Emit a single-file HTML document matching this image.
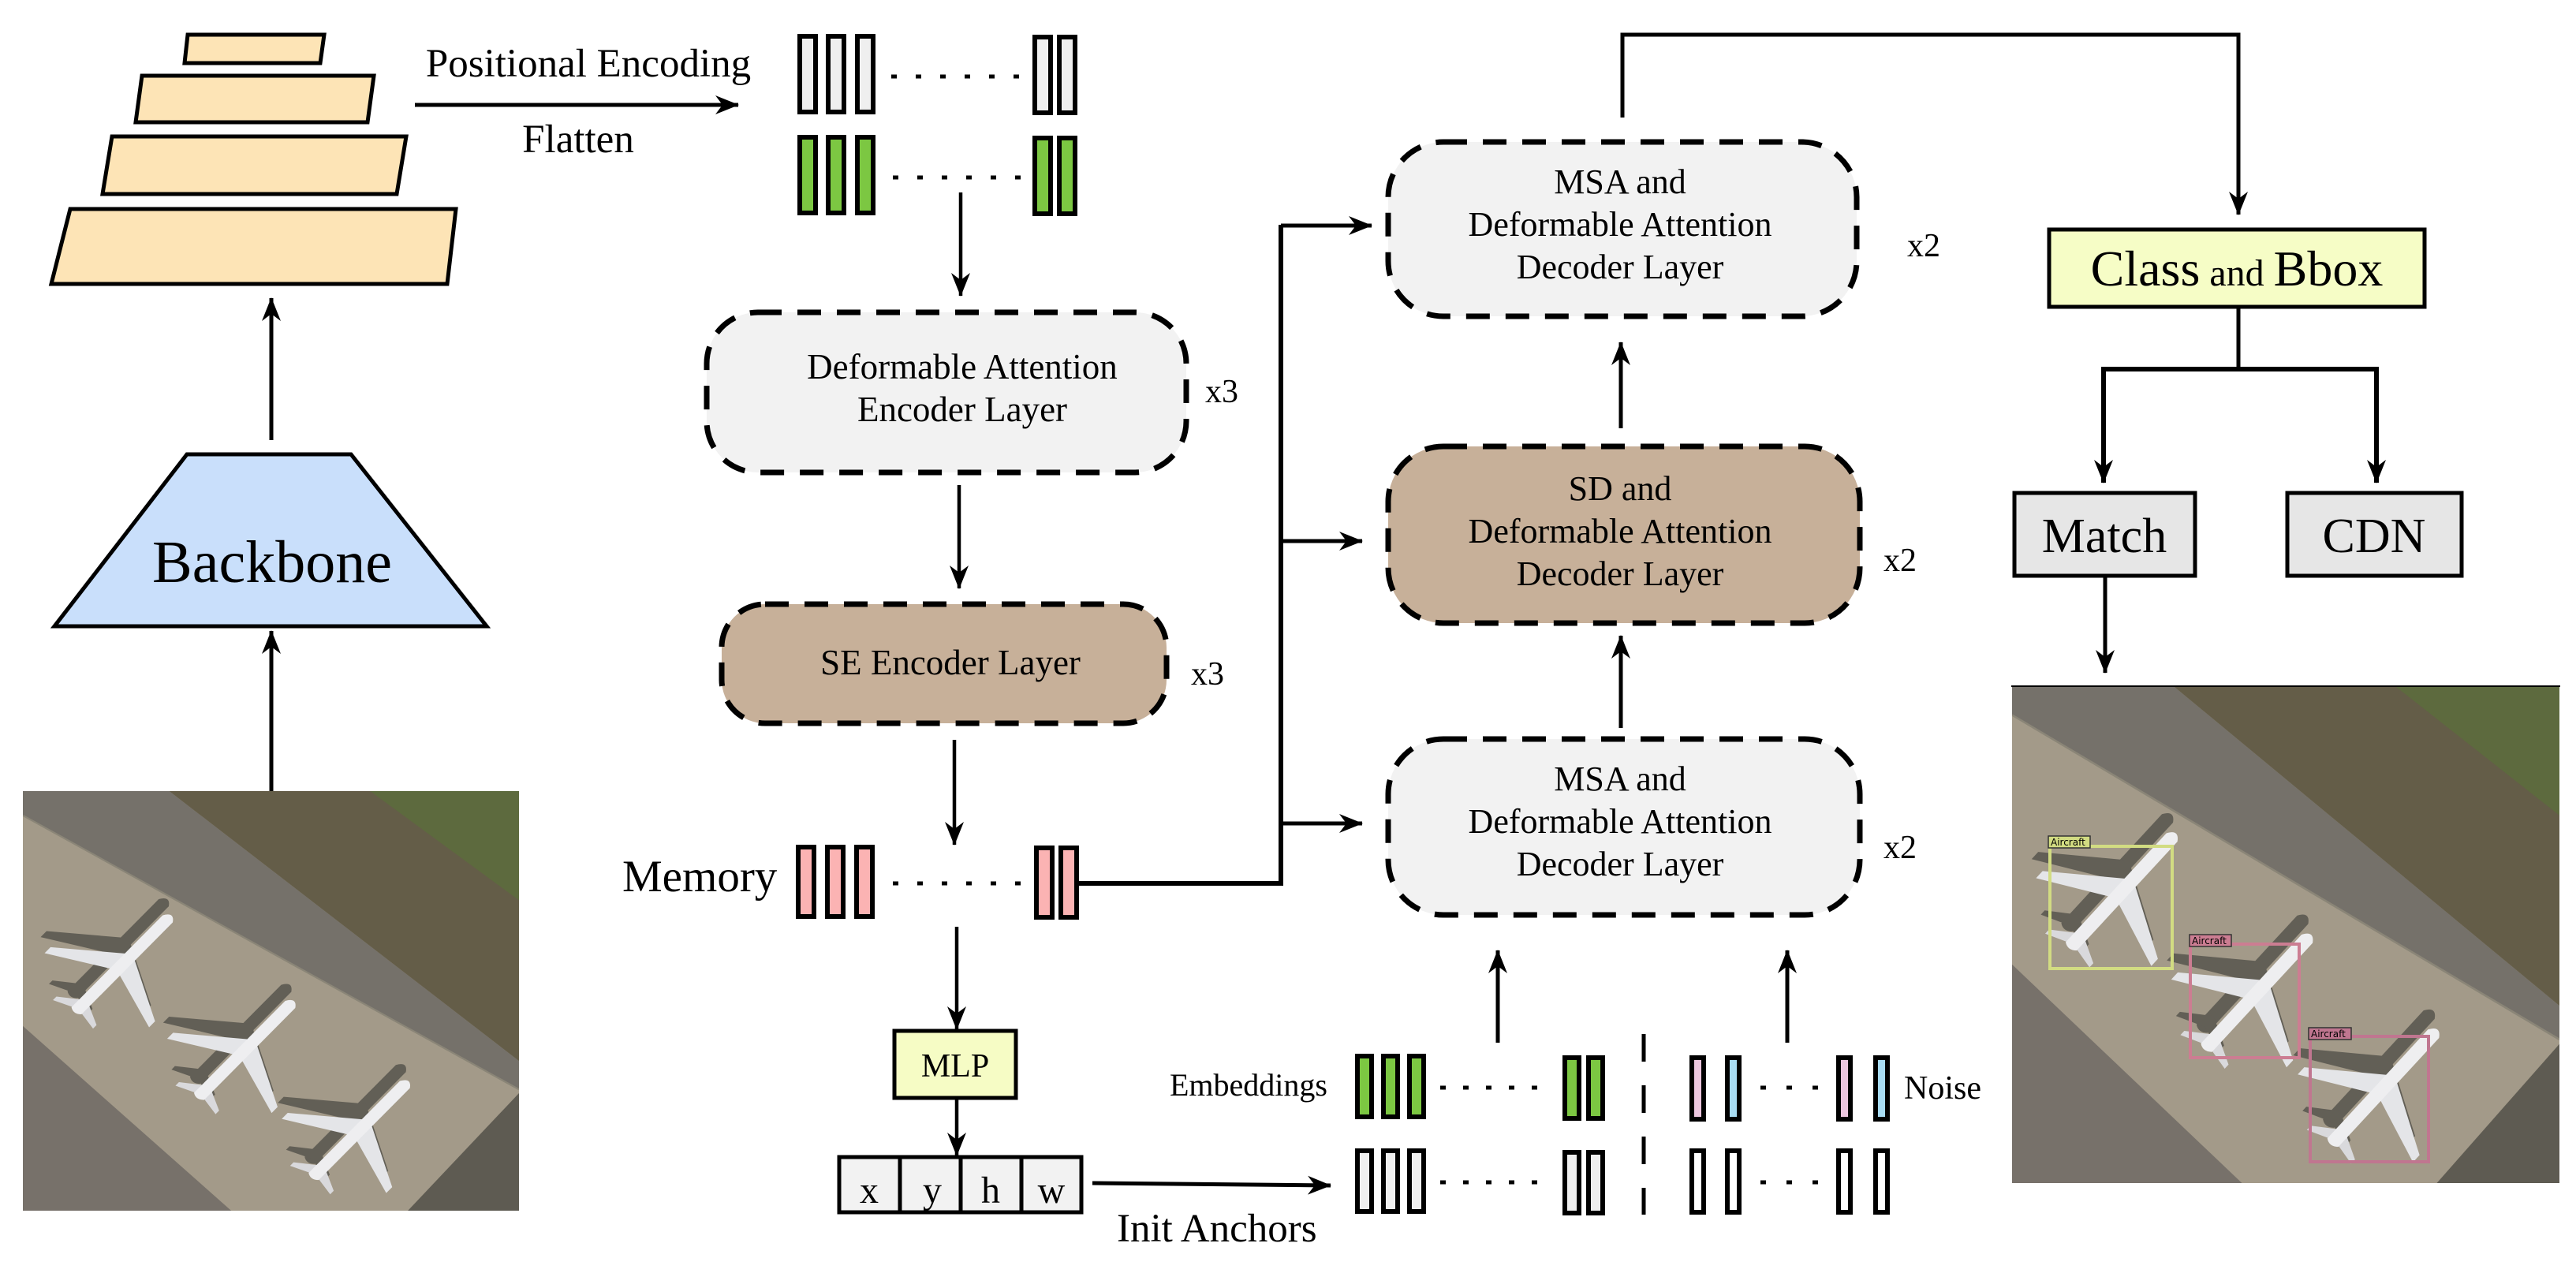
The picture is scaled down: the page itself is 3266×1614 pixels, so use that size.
<!DOCTYPE html>
<html><head><meta charset="utf-8"><style>
html,body{margin:0;padding:0;background:#fff;}
svg{display:block;}
text{font-family:"Liberation Serif",serif;fill:#000;}
</style></head><body>
<svg width="3266" height="1614" viewBox="0 0 3266 1614" xmlns="http://www.w3.org/2000/svg">
<defs>
<marker id="ah" viewBox="0 0 30 24" refX="29" refY="12" markerWidth="30" markerHeight="24" markerUnits="userSpaceOnUse" orient="auto">
<path d="M0,0 L30,12 L0,24 L9,12 z" fill="#000"/>
</marker>
<g id="plane">
<g transform="translate(-28,-22)" fill="#4d4c46" opacity="0.75">
<path d="M-12,-130 Q0,-150 12,-130 L12,130 Q0,140 -12,130 z"/>
<path d="M0,-30 L-125,55 L-125,72 L0,15 L125,72 L125,55 z"/>
<path d="M0,100 L-48,130 L-48,140 L0,125 L48,140 L48,130 z"/>
</g>
<path d="M0,100 L-48,130 L-48,140 L0,125 L48,140 L48,130 z" fill="#d9d9dc"/>
<path d="M0,-30 L-125,55 L-125,72 L0,15 L125,72 L125,55 z" fill="#e4e5e8"/>
<path d="M-12,-130 Q0,-150 12,-130 L12,130 Q0,140 -12,130 z" fill="#eeeef0"/>
</g>
<g id="scene">
<rect x="0" y="0" width="1000" height="1000" fill="#a39a89"/>
<polygon points="0,0 295,0 1000,643 1000,711 0,58" fill="#75716a"/>
<polygon points="295,0 1000,0 1000,643" fill="#645d48"/>
<polygon points="700,0 1000,0 1000,260" fill="#5d6a3e"/>
<polygon points="0,560 420,1000 0,1000" fill="#77716a"/>
<polygon points="776,1000 1000,720 1000,1000" fill="#5e5b52"/>
<line x1="0" y1="58" x2="1000" y2="711" stroke="#8a8577" stroke-width="4"/>
<use href="#plane" transform="translate(200,414) rotate(40) scale(1.1)"/>
<use href="#plane" transform="translate(447,618) rotate(40) scale(1.1)"/>
<use href="#plane" transform="translate(678,809) rotate(40) scale(1.1)"/>
</g>
</defs>

<!-- Feature pyramid -->
<g fill="#fde4b6" stroke="#000" stroke-width="5">
<polygon points="238,44 411,44 406,80 234,80"/>
<polygon points="180,96 474,96 466,155 172,155"/>
<polygon points="142,173 515,173 503,246 130,246"/>
<polygon points="89,265 578,265 567,360 65,360"/>
</g>
<line x1="344" y1="558" x2="344" y2="378" stroke="#000" stroke-width="5" marker-end="url(#ah)"/>

<!-- Backbone -->
<polygon points="237,576 445,576 617,794 69,794" fill="#c9dffb" stroke="#000" stroke-width="5"/>
<text x="345" y="738" font-size="76" text-anchor="middle">Backbone</text>
<line x1="344" y1="1003" x2="344" y2="800" stroke="#000" stroke-width="5" marker-end="url(#ah)"/>

<!-- Left image -->
<svg x="29" y="1003" width="629" height="532" viewBox="0 0 1000 1000" preserveAspectRatio="none"><use href="#scene"/></svg>

<!-- Positional encoding arrow -->
<text x="746" y="97" font-size="51" text-anchor="middle">Positional Encoding</text>
<text x="733" y="193" font-size="51" text-anchor="middle">Flatten</text>
<line x1="526" y1="133" x2="936" y2="133" stroke="#000" stroke-width="5" marker-end="url(#ah)"/>

<!-- Token rows top -->
<g stroke="#000" stroke-width="6" fill="#efefef">
<rect x="1014" y="46" width="20" height="96"/><rect x="1050" y="46" width="20" height="96"/><rect x="1087" y="46" width="20" height="96"/>
<rect x="1312" y="47" width="20" height="96"/><rect x="1343" y="47" width="20" height="96"/>
</g>
<line x1="1130" y1="97" x2="1293" y2="97" stroke="#000" stroke-width="5" stroke-dasharray="7,24"/>
<g stroke="#000" stroke-width="6" fill="#7cc742">
<rect x="1014" y="174" width="20" height="96"/><rect x="1050" y="174" width="20" height="96"/><rect x="1087" y="174" width="20" height="96"/>
<rect x="1312" y="175" width="20" height="96"/><rect x="1343" y="175" width="20" height="96"/>
</g>
<line x1="1132" y1="225" x2="1295" y2="225" stroke="#000" stroke-width="5" stroke-dasharray="7,24"/>
<line x1="1218" y1="244" x2="1218" y2="375" stroke="#000" stroke-width="4.5" marker-end="url(#ah)"/>

<!-- Encoder boxes -->
<rect x="896" y="396" width="608" height="203" rx="65" fill="#f2f2f2" stroke="#000" stroke-width="7" stroke-dasharray="30,20"/>
<text x="1220" y="480" font-size="45" text-anchor="middle">Deformable Attention</text>
<text x="1220" y="534" font-size="45" text-anchor="middle">Encoder Layer</text>
<text x="1528" y="510" font-size="42">x3</text>
<line x1="1216" y1="615" x2="1216" y2="746" stroke="#000" stroke-width="4.5" marker-end="url(#ah)"/>

<rect x="915" y="766" width="564" height="151" rx="55" fill="#c7b099" stroke="#000" stroke-width="7" stroke-dasharray="30,20"/>
<text x="1205" y="855" font-size="45" text-anchor="middle">SE Encoder Layer</text>
<text x="1510" y="868" font-size="42">x3</text>
<line x1="1210" y1="938" x2="1210" y2="1071" stroke="#000" stroke-width="4.5" marker-end="url(#ah)"/>

<!-- Memory -->
<text x="789" y="1130" font-size="57">Memory</text>
<g stroke="#000" stroke-width="6" fill="#fbb3b3">
<rect x="1012" y="1074" width="20" height="88"/><rect x="1049" y="1074" width="20" height="88"/><rect x="1086" y="1074" width="20" height="88"/>
<rect x="1314" y="1075" width="20" height="88"/><rect x="1345" y="1075" width="20" height="88"/>
</g>
<line x1="1132" y1="1120" x2="1295" y2="1120" stroke="#000" stroke-width="5" stroke-dasharray="7,24"/>
<polyline points="1367,1120 1624,1120 1624,285" fill="none" stroke="#000" stroke-width="6"/>
<line x1="1624" y1="286" x2="1739" y2="286" stroke="#000" stroke-width="5" marker-end="url(#ah)"/>
<line x1="1624" y1="686" x2="1727" y2="686" stroke="#000" stroke-width="5" marker-end="url(#ah)"/>
<line x1="1624" y1="1044" x2="1727" y2="1044" stroke="#000" stroke-width="5" marker-end="url(#ah)"/>

<line x1="1213" y1="1175" x2="1213" y2="1305" stroke="#000" stroke-width="4.5" marker-end="url(#ah)"/>
<rect x="1134" y="1307" width="154" height="85" fill="#f6fcc5" stroke="#000" stroke-width="5"/>
<text x="1211" y="1365" font-size="42" text-anchor="middle">MLP</text>
<line x1="1213" y1="1392" x2="1213" y2="1465" stroke="#000" stroke-width="4.5" marker-end="url(#ah)"/>

<g stroke="#000" stroke-width="5" fill="#f2f2f2">
<rect x="1064" y="1467" width="77" height="70"/><rect x="1141" y="1467" width="77" height="70"/><rect x="1218" y="1467" width="77" height="70"/><rect x="1295" y="1467" width="76" height="70"/>
</g>
<text x="1102" y="1525" font-size="48" text-anchor="middle">x</text>
<text x="1182" y="1525" font-size="48" text-anchor="middle">y</text>
<text x="1256" y="1525" font-size="48" text-anchor="middle">h</text>
<text x="1333" y="1525" font-size="48" text-anchor="middle">w</text>
<line x1="1385" y1="1500" x2="1687" y2="1503" stroke="#000" stroke-width="5" marker-end="url(#ah)"/>
<text x="1416" y="1574" font-size="51">Init Anchors</text>

<!-- Embeddings / noise -->
<text x="1483" y="1389" font-size="40">Embeddings</text>
<g stroke="#000" stroke-width="6" fill="#7cc742">
<rect x="1721" y="1339" width="18" height="77"/><rect x="1754" y="1339" width="18" height="77"/><rect x="1787" y="1339" width="18" height="77"/>
<rect x="1984" y="1341" width="18" height="77"/><rect x="2014" y="1341" width="18" height="77"/>
</g>
<line x1="1826" y1="1379" x2="1966" y2="1379" stroke="#000" stroke-width="5" stroke-dasharray="7,22"/>
<g stroke="#000" stroke-width="6" fill="#efefef">
<rect x="1721" y="1459" width="18" height="77"/><rect x="1754" y="1459" width="18" height="77"/><rect x="1787" y="1459" width="18" height="77"/>
<rect x="1984" y="1461" width="18" height="77"/><rect x="2014" y="1461" width="18" height="77"/>
</g>
<line x1="1826" y1="1499" x2="1966" y2="1499" stroke="#000" stroke-width="5" stroke-dasharray="7,22"/>
<line x1="2084" y1="1311" x2="2084" y2="1540" stroke="#000" stroke-width="5" stroke-dasharray="35,30"/>
<g stroke="#000" stroke-width="6">
<rect x="2145" y="1341" width="15" height="78" fill="#ecc6de"/><rect x="2190" y="1341" width="15" height="78" fill="#a8dcf3"/>
<rect x="2331" y="1341" width="15" height="78" fill="#ecc6de"/><rect x="2378" y="1341" width="15" height="78" fill="#a8dcf3"/>
<rect x="2145" y="1459" width="15" height="78" fill="#fff"/><rect x="2190" y="1459" width="15" height="78" fill="#fff"/>
<rect x="2331" y="1459" width="15" height="78" fill="#fff"/><rect x="2378" y="1459" width="15" height="78" fill="#fff"/>
</g>
<line x1="2232" y1="1379" x2="2306" y2="1379" stroke="#000" stroke-width="5" stroke-dasharray="7,26"/>
<line x1="2232" y1="1499" x2="2306" y2="1499" stroke="#000" stroke-width="5" stroke-dasharray="7,26"/>
<text x="2414" y="1393" font-size="42">Noise</text>
<line x1="1899" y1="1322" x2="1899" y2="1205" stroke="#000" stroke-width="5" marker-end="url(#ah)"/>
<line x1="2266" y1="1322" x2="2266" y2="1205" stroke="#000" stroke-width="5" marker-end="url(#ah)"/>

<!-- Decoder boxes -->
<rect x="1760" y="937" width="598" height="223" rx="70" fill="#f2f2f2" stroke="#000" stroke-width="7" stroke-dasharray="30,20"/>
<text x="2054" y="1002" font-size="44" text-anchor="middle">MSA  and</text>
<text x="2054" y="1056" font-size="44" text-anchor="middle">Deformable Attention</text>
<text x="2054" y="1110" font-size="44" text-anchor="middle">Decoder Layer</text>
<text x="2388" y="1088" font-size="42">x2</text>
<line x1="2055" y1="923" x2="2055" y2="806" stroke="#000" stroke-width="5" marker-end="url(#ah)"/>

<rect x="1760" y="566" width="598" height="224" rx="70" fill="#c7b099" stroke="#000" stroke-width="7" stroke-dasharray="30,20"/>
<text x="2054" y="634" font-size="44" text-anchor="middle">SD  and</text>
<text x="2054" y="688" font-size="44" text-anchor="middle">Deformable Attention</text>
<text x="2054" y="742" font-size="44" text-anchor="middle">Decoder Layer</text>
<text x="2388" y="724" font-size="42">x2</text>
<line x1="2055" y1="543" x2="2055" y2="434" stroke="#000" stroke-width="5" marker-end="url(#ah)"/>

<rect x="1760" y="180" width="594" height="221" rx="70" fill="#f2f2f2" stroke="#000" stroke-width="7" stroke-dasharray="30,20"/>
<text x="2054" y="245" font-size="44" text-anchor="middle">MSA  and</text>
<text x="2054" y="299" font-size="44" text-anchor="middle">Deformable Attention</text>
<text x="2054" y="353" font-size="44" text-anchor="middle">Decoder Layer</text>
<text x="2418" y="325" font-size="42">x2</text>

<polyline points="2057,149 2057,44 2838,44 2838,150" fill="none" stroke="#000" stroke-width="5"/>
<line x1="2838" y1="148" x2="2838" y2="272" stroke="#000" stroke-width="5" marker-end="url(#ah)"/>

<rect x="2598" y="291" width="476" height="98" fill="#f6fdc6" stroke="#000" stroke-width="5"/>
<text x="2836" y="362" text-anchor="middle"><tspan font-size="64">Class</tspan><tspan font-size="48"> and </tspan><tspan font-size="64">Bbox</tspan></text>
<polyline points="2838,389 2838,468" fill="none" stroke="#000" stroke-width="5"/>
<polyline points="2667,612 2667,468 3013,468 3013,612" fill="none" stroke="#000" stroke-width="6"/>
<line x1="2667" y1="560" x2="2667" y2="612" stroke="#000" stroke-width="5" marker-end="url(#ah)"/>
<line x1="3013" y1="560" x2="3013" y2="612" stroke="#000" stroke-width="5" marker-end="url(#ah)"/>

<rect x="2554" y="625" width="229" height="105" fill="#e6e6e6" stroke="#000" stroke-width="5"/>
<text x="2668" y="700" font-size="62" text-anchor="middle">Match</text>
<rect x="2900" y="625" width="221" height="105" fill="#e6e6e6" stroke="#000" stroke-width="5"/>
<text x="3010" y="700" font-size="62" text-anchor="middle">CDN</text>
<line x1="2669" y1="731" x2="2669" y2="853" stroke="#000" stroke-width="5" marker-end="url(#ah)"/>

<!-- Right image -->
<svg x="2551" y="870" width="694" height="630" viewBox="0 0 1000 1000" preserveAspectRatio="none"><use href="#scene"/></svg>
<line x1="2550" y1="870" x2="3246" y2="870" stroke="#000" stroke-width="2"/>
<g fill="none" stroke-width="4">
<rect x="2599" y="1073" width="155" height="155" stroke="#d2dc82"/>
<rect x="2777" y="1197" width="138" height="144" stroke="#cc7d92"/>
<rect x="2929" y="1314" width="150" height="159" stroke="#c07690"/>
</g>
<rect x="2597" y="1060" width="53" height="15" fill="#d2dc82" stroke="#333" stroke-width="1.5"/>
<text x="2600" y="1072" font-size="12" style="font-family:'DejaVu Sans',sans-serif">Aircraft</text>
<rect x="2776" y="1185" width="53" height="15" fill="#cc7d92" stroke="#333" stroke-width="1.5"/>
<text x="2779" y="1197" font-size="12" style="font-family:'DejaVu Sans',sans-serif">Aircraft</text>
<rect x="2927" y="1303" width="54" height="15" fill="#c07690" stroke="#333" stroke-width="1.5"/>
<text x="2930" y="1315" font-size="12" style="font-family:'DejaVu Sans',sans-serif">Aircraft</text>
</svg>
</body></html>
